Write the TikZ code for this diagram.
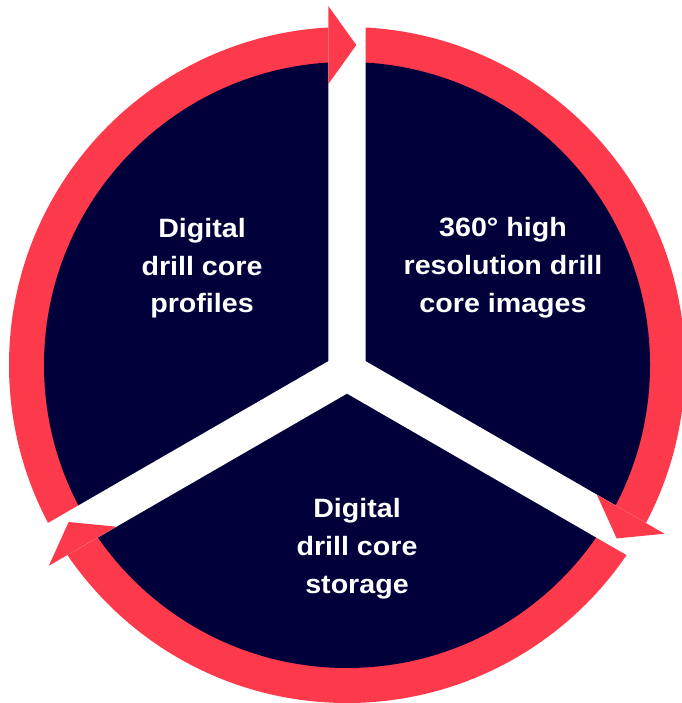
\documentclass[tikz,border=0pt]{standalone}
\usepackage{fontspec}
\setmainfont{Liberation Sans}[FakeStretch=1.08]
\definecolor{ringred}{HTML}{FD3A4B}
\definecolor{navy}{HTML}{02003A}
\begin{document}
\begin{tikzpicture}[x=1pt,y=1pt,
  ringfill/.style={fill=ringred},
  diskfill/.style={fill=navy},
  gapfill/.style={fill=white},
  headfill/.style={fill=ringred},
  lbl/.style={text=white,font=\fontsize{26.5}{37.8}\selectfont\bfseries,align=center,inner sep=0pt}]
\useasboundingbox (0,0) rectangle (681,703);
% centre of ring and junction of gaps (pixel y flipped: 703 - y)
\coordinate (C) at (347,338);
\coordinate (O) at (347,331);
% ring and disk
\fill[ringfill] (C) circle[radius=338pt];
\fill[diskfill] (C) circle[radius=303pt];
% white Y-shaped gaps
\fill[gapfill] (328.3,720) -- (328.3,341.8)
  -- ++(210:460) -- ++(300:37.4) -- (347,309.4)
  -- ++(330:460) -- ++(60:37.4) -- (365.7,341.8)
  -- (365.7,720) -- cycle;
% arrowheads
\fill[headfill] (328.3,696.95) -- (356.3,657.95) -- (328.3,618.95) -- cycle;
\fill[headfill] (664.4,169.3) -- (616.65,164.55) -- (596.9,208.3) -- cycle;
\fill[headfill] (48.9,137.3) -- (68.65,181.0) -- (116.4,176.3) -- cycle;
% labels
\node[lbl] (profiles) at (202,434.7) {Digital\\drill core\\profiles};
\node[lbl] (images) at (503,435) {360° high\\resolution drill\\core images};
\node[lbl] (storage) at (357,154.2) {Digital\\drill core\\storage};
\end{tikzpicture}
\end{document}
